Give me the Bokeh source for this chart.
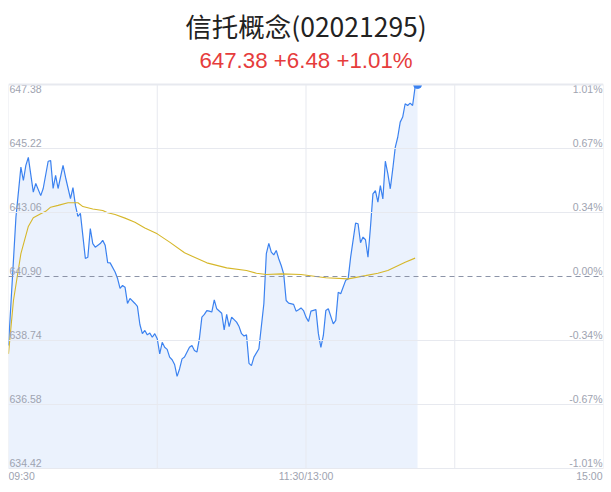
import math
from bokeh.plotting import figure
from bokeh.models import Range1d, Span, ColumnDataSource
from bokeh.core.properties import value
from bokeh.embed import file_html
from bokeh.resources import INLINE

TITLE = "信托概念(02021295)"
SUBTITLE = "647.38 +6.48 +1.01%"
prev_close = 640.90
price_levels = [647.38, 645.22, 643.06, 640.90, 638.74, 636.58, 634.42]
price_labels = ["647.38", "645.22", "643.06", "640.90", "638.74", "636.58", "634.42"]
pct_labels = ["1.01%", "0.67%", "0.34%", "0.00%", "-0.34%", "-0.67%", "-1.01%"]
time_grid = [0, 60, 120, 180, 240]
time_ticks = [0, 120, 240]
time_labels = ["09:30", "11:30/13:00", "15:00"]

minutes = [0, 3, 5, 6, 7, 8, 10, 11, 13, 14, 16, 17, 18, 19, 20, 22, 23, 25, 26, 27,
           28, 29, 31, 32, 33, 34, 35, 37, 38, 39, 40, 41, 43, 44, 45, 46, 47, 48, 49, 51,
           52, 53, 54, 55, 56, 57, 58, 59, 60, 61, 62, 63, 64, 65, 66, 67, 68, 69, 70, 71,
           73, 74, 75, 76, 77, 78, 79, 80, 81, 82, 83, 84, 86, 87, 88, 89, 90, 92, 93, 94,
           95, 96, 97, 98, 99, 101, 103, 104, 105, 106, 107, 108, 109, 110, 111, 112, 113, 115, 116, 117,
           118, 119, 120, 121, 122, 124, 125, 126, 127, 128, 129, 131, 132, 133, 134, 136, 137, 138, 140, 141,
           142, 143, 144, 145, 146, 147, 148, 149, 150, 151, 152, 153, 154, 155, 156, 157, 158, 159, 160, 161,
           162, 163, 164, 165]
prices = [638.57, 642.90, 644.59, 644.14, 644.65, 644.92, 643.75, 644.04, 643.63, 643.87,
          644.79, 644.81, 643.87, 644.31, 643.87, 644.65, 644.25, 643.53, 643.90, 643.30,
          642.93, 643.03, 641.51, 641.55, 642.52, 642.01, 641.89, 642.01, 642.12, 641.95,
          641.37, 641.36, 641.05, 640.83, 640.50, 640.60, 640.54, 639.99, 640.16, 639.99,
          639.89, 639.28, 638.97, 639.08, 638.93, 638.99, 638.85, 638.97, 638.80, 638.29,
          638.68, 638.51, 638.44, 638.18, 638.09, 637.93, 637.53, 637.78, 638.12, 638.18,
          638.51, 638.57, 638.40, 638.35, 638.80, 639.53, 639.62, 639.75, 639.73, 639.70,
          640.11, 639.81, 639.66, 639.10, 639.62, 639.21, 639.53, 639.36, 639.21, 638.97,
          638.89, 638.93, 637.97, 637.89, 638.18, 638.46, 639.98, 641.67, 642.02, 641.72,
          641.63, 641.78, 641.50, 641.27, 640.99, 640.09, 640.00, 639.96, 639.73, 639.78,
          639.84, 639.75, 639.53, 639.38, 639.73, 639.78, 638.97, 638.51, 638.91, 639.75,
          639.81, 639.30, 639.42, 640.37, 640.32, 640.77, 640.82, 641.55, 642.70, 642.68,
          642.04, 642.23, 642.14, 641.55, 642.56, 643.69, 643.80, 643.41, 643.97, 643.52,
          644.79, 644.37, 643.86, 644.53, 645.26, 645.60, 646.11, 646.28, 646.73, 646.67,
          646.75, 646.67, 647.29, 647.38]

avg_minutes = [0, 2, 5, 8, 10, 13, 15, 17, 20, 24, 28, 30, 34, 38, 40, 43, 47, 51, 55, 60,
               65, 71, 75, 80, 88, 96, 100, 104, 110, 118, 124, 128, 137, 144, 149, 153, 160, 164]
avg_prices = [638.29, 640.09, 641.67, 642.59, 642.88, 643.02, 643.10, 643.24, 643.30, 643.39,
              643.39, 643.26, 643.18, 643.13, 643.05, 642.99, 642.87, 642.73, 642.54, 642.34,
              642.06, 641.70, 641.55, 641.36, 641.19, 641.10, 641.01, 640.97, 640.99, 640.97,
              640.90, 640.86, 640.82, 640.93, 641.01, 641.10, 641.38, 641.52]

GRID = "#e7e9ef"
LABEL = "#9ea3b0"
BLUE = "#3b82f0"
CJK = "Noto Sans CJK SC"
SANS = "Liberation Sans"

top, bottom = price_levels[0], price_levels[-1]
plot_px = 384          # height of the price area in pixels
head_px = 84           # title block above the price area
foot_px = 16           # time labels below the price area
k = (top - bottom) / plot_px
y_start = bottom - foot_px * k
y_end = top + head_px * k

p = figure(frame_width=595, frame_height=head_px + plot_px + foot_px, output_backend="svg",
           toolbar_location=None,
           x_range=Range1d(0, 240), y_range=Range1d(y_start, y_end),
           x_axis_location=None, y_axis_location=None, title=None,
           min_border_left=8, min_border_right=8, min_border_top=0, min_border_bottom=0)
p.xgrid.visible = False
p.ygrid.visible = False
p.outline_line_color = None
p.background_fill_color = "white"
p.border_fill_color = "white"

# titles (vertical centres near 26px and 60px from the top)
p.text(x=[120], y=[top + (head_px - 24.5) * k], text=[TITLE], text_align="center",
       text_baseline="middle", text_color="#222222", text_font_size="26.5px",
       text_font=value(CJK))
p.text(x=[120], y=[top + (head_px - 59.5) * k], text=[SUBTITLE], text_align="center",
       text_baseline="middle", text_color="#e63c3c", text_font_size="22.3px",
       text_font=value(SANS))

src = ColumnDataSource(dict(m=minutes, p=prices))
base = [bottom] * len(minutes)
p.varea(x=minutes, y1=base, y2=prices, fill_color=BLUE, fill_alpha=0.1)

for lv in price_levels:
    if lv == prev_close:
        continue
    p.add_layout(Span(location=lv, dimension="width", line_color=GRID,
                      line_width=2 if lv == top else 1))
n_t = len(time_grid)
p.segment(x0=time_grid, y0=[bottom] * n_t, x1=time_grid, y1=[top] * n_t,
          line_color=GRID, line_width=1)
p.add_layout(Span(location=prev_close, dimension="width", line_color="#8c94a8",
                  line_dash="5 4", line_width=1))

p.line(x="m", y="p", source=src, line_color=BLUE, line_width=1.2)
p.line(x=avg_minutes, y=avg_prices, line_color="#d6b72a", line_width=1.1)
# last-price marker, cut by the top edge of the price area
p.wedge(x=[minutes[-1]], y=[prices[-1]], radius=4, radius_units="screen",
        start_angle=math.pi, end_angle=2 * math.pi, fill_color=BLUE, line_color=BLUE)

n = len(price_levels)
yo = [4.5 if i == 0 else -6 for i in range(n)]
p.text(x=[0] * n, y=price_levels, text=price_labels, text_align="left", text_baseline="middle",
       x_offset=1, y_offset=yo, text_color=LABEL, text_font_size="10.5px", text_font=value(SANS))
p.text(x=[240] * n, y=price_levels, text=pct_labels, text_align="right", text_baseline="middle",
       x_offset=-1, y_offset=yo, text_color=LABEL, text_font_size="10.5px", text_font=value(SANS))

p.text(x=time_ticks, y=[bottom] * len(time_ticks), text=time_labels,
       text_align=["left", "center", "right"], text_baseline="middle",
       x_offset=[0, 0, -1], y_offset=7, text_color=LABEL, text_font_size="10.5px",
       text_font=value(SANS))

open("out.html", "w").write(file_html(p, INLINE))
